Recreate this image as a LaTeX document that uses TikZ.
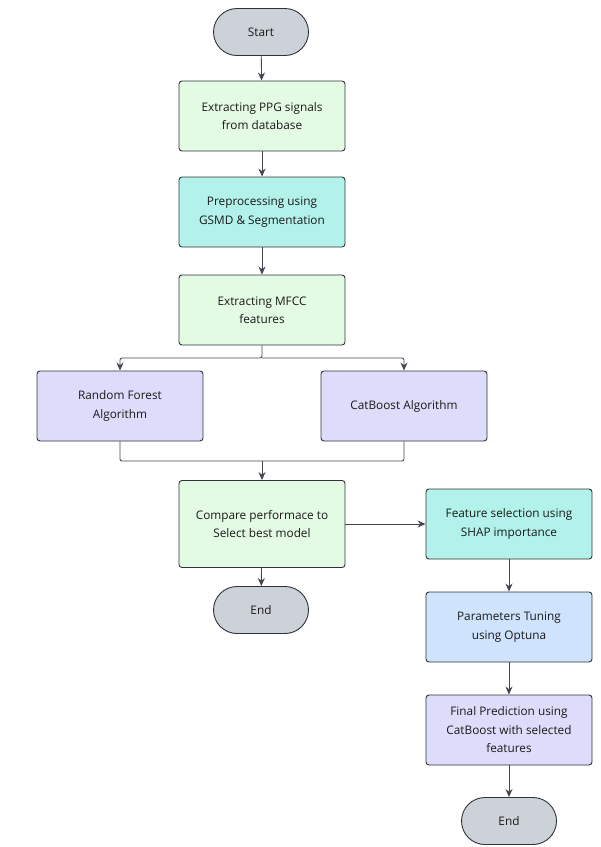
\documentclass[tikz,border=0pt]{standalone}
\usepackage{fontspec}
\setmainfont{Open Sans}
\usepackage{xcolor}
\usetikzlibrary{arrows.meta}

\definecolor{termgray}{HTML}{CDD1D8}
\definecolor{stepgreen}{HTML}{E3FAE3}
\definecolor{stepteal}{HTML}{B3F2EA}
\definecolor{steppurple}{HTML}{DDDDFB}
\definecolor{stepblue}{HTML}{CFE3FD}
\definecolor{edgegray}{HTML}{2E323A}

\begin{document}
\begin{tikzpicture}[x=1pt,y=-1pt,
    every node/.style={font=\fontsize{11.8}{18.5}\selectfont, text=black!90},
    term/.style={draw=edgegray, line width=0.9pt, fill=termgray, minimum width=95pt, minimum height=47pt, rounded corners=23.5pt},
    stepbox/.style={draw=edgegray, line width=0.9pt, minimum width=166pt, minimum height=70pt, rounded corners=3pt, align=center},
    arr/.style={-{Stealth[length=8pt,width=7pt]}, edgegray!90, line width=0.85pt},
    lnk/.style={edgegray!90, line width=0.85pt, rounded corners=2pt}]
\useasboundingbox (0,0) rectangle (601,847);

% Main column
\node[term] (start) at (261,32) {Start};
\node[stepbox, fill=stepgreen] (ppg) at (262,116) {Extracting PPG signals\\from database};
\node[stepbox, fill=stepteal] (prep) at (262,212) {Preprocessing using\\GSMD \& Segmentation};
\node[stepbox, fill=stepgreen] (mfcc) at (262,310) {Extracting MFCC\\features};

% Two models
\node[stepbox, fill=steppurple] (rf) at (120,406) {Random Forest\\Algorithm};
\node[stepbox, fill=steppurple] (cb) at (404,406) {CatBoost Algorithm};

\node[stepbox, fill=stepgreen, minimum height=87pt] (cmp) at (262,524) {Compare performace to\\Select best model};
\node[term] (end1) at (261,610) {End};

% Right column
\node[stepbox, fill=stepteal] (shap) at (509,524) {Feature selection using\\SHAP importance};
\node[stepbox, fill=stepblue] (tune) at (509,627) {Parameters Tuning\\using Optuna};
\node[stepbox, fill=steppurple] (final) at (509,730) {Final Prediction using\\CatBoost with selected\\features};
\node[term] (end2) at (509,821) {End};

% Connectors
\draw[arr] (start) -- (ppg);
\draw[arr] (ppg) -- (prep);
\draw[arr] (prep) -- (mfcc);
\coordinate (split) at (262,358);
\draw[arr, rounded corners=2pt] (mfcc.south) -- (split) -| (rf.north);
\draw[arr, rounded corners=2pt] (split) -| (cb.north);
\coordinate (join) at (262,461);
\draw[lnk] (rf.south) |- (join);
\draw[lnk] (cb.south) |- (join);
\draw[arr] (join) -- (cmp.north);
\draw[arr] (cmp) -- (end1);
\draw[arr] (cmp) -- (shap);
\draw[arr] (shap) -- (tune);
\draw[arr] (tune) -- (final);
\draw[arr] (final) -- (end2);
\end{tikzpicture}
\end{document}
